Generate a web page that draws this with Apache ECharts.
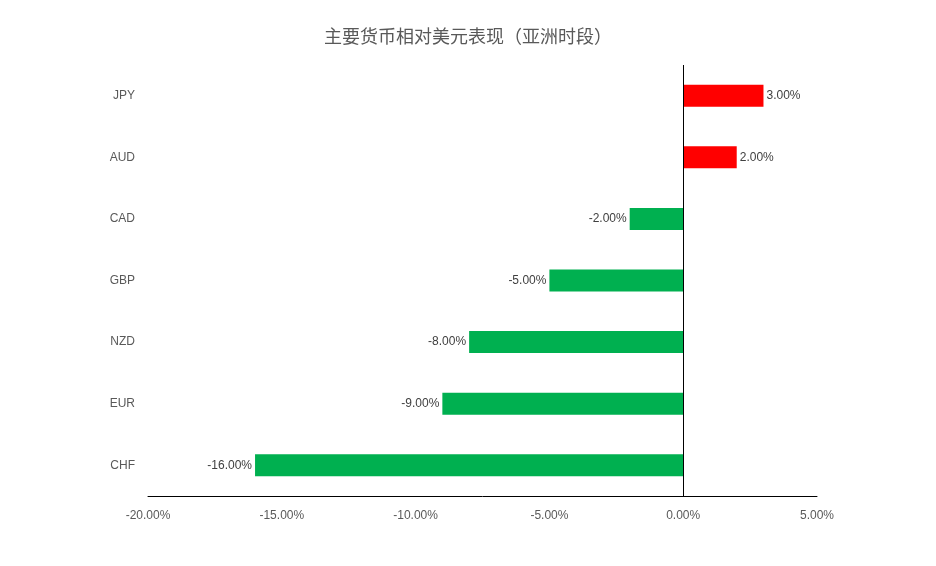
<!DOCTYPE html>
<html><head><meta charset="utf-8">
<script src="https://cdn.jsdelivr.net/npm/echarts@6/dist/echarts.min.js"></script>
<style>html,body{margin:0;padding:0;background:#fff}#c{width:936px;height:566px}</style>
</head><body><div id="c"></div>
<script>
const categories = ['CHF','EUR','NZD','GBP','CAD','AUD','JPY'];
const values = [-0.16,-0.09,-0.08,-0.05,-0.02,0.02,0.03];
const xTicks = [-0.20,-0.15,-0.10,-0.05,0,0.05];
const chart = echarts.init(document.getElementById('c'));
chart.setOption({
  animation:false,
  title:{text:'主要货币相对美元表现（亚洲时段）',left:'center',top:22,textStyle:{color:'#595959',fontSize:18,fontWeight:'normal',fontFamily:'Noto Sans CJK SC'}},
  grid:{left:148,right:119,top:65,bottom:70},
  xAxis:{type:'value',min:xTicks[0],max:xTicks[xTicks.length-1],interval:0.05,
    axisLine:{show:true,onZero:false,lineStyle:{color:'#000'}},axisTick:{show:false},splitLine:{show:false},
    axisLabel:{color:'#595959',fontSize:12,margin:14,formatter:v=>(v*100).toFixed(2)+'%'}},
  yAxis:{type:'category',data:categories,axisLine:{show:false},axisTick:{show:false},
    axisLabel:{color:'#595959',fontSize:12,margin:13}},
  series:[{type:'bar',barWidth:22,
    data:values.map(v=>({value:v,itemStyle:{color:v>=0?'#ff0000':'#00b050'},
      label:{show:true,position:v>=0?'right':'left',distance:3,color:'#404040',fontSize:12,formatter:(v*100).toFixed(2)+'%'}})),
    markLine:{silent:true,symbol:'none',label:{show:false},lineStyle:{color:'#000',type:'solid',width:1},data:[{xAxis:0}]}
  }]
});
</script></body></html>
